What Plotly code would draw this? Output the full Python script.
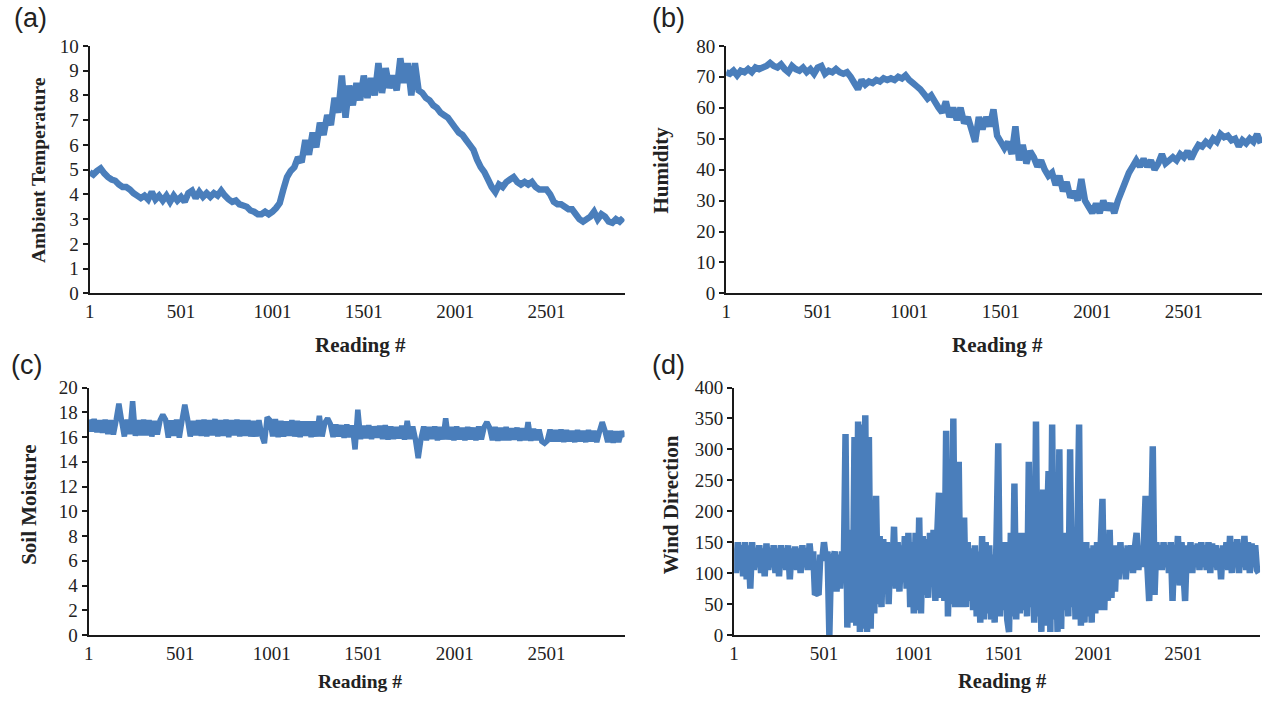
import plotly.graph_objects as go

W, H = 1270, 712
LINE = "#4A7EBB"

# ---------------- data ----------------
# Reading index sampled every 20 readings for (a) and (b)
reading_ab = list(range(1, 2922, 20))

ambient_temperature = [
    4.9, 4.8, 4.95, 5.05, 4.85, 4.7, 4.6, 4.55, 4.4, 4.3,
    4.3, 4.2, 4.05, 3.95, 3.85, 3.95, 3.8, 4.1, 3.8, 3.95,
    3.75, 3.95, 3.7, 3.95, 3.75, 3.9, 3.7, 4.05, 4.15, 3.85,
    4.1, 3.9, 4.05, 3.9, 4.05, 3.95, 4.15, 3.95, 3.8, 3.7,
    3.75, 3.6, 3.55, 3.5, 3.35, 3.3, 3.2, 3.2, 3.3, 3.2,
    3.3, 3.45, 3.65, 4.2, 4.7, 4.95, 5.1, 5.5, 5.3, 6.2,
    5.6, 6.5, 5.9, 6.9, 6.4, 7.2, 6.8, 7.9, 7.3, 8.8,
    7.1, 8.4, 7.6, 8.5, 7.8, 8.8, 7.9, 8.7, 8.0, 9.3,
    8.1, 9.1, 8.3, 8.8, 8.2, 9.5, 8.5, 9.3, 8.0, 9.3,
    8.2, 8.1, 7.9, 7.8, 7.6, 7.5, 7.3, 7.2, 7.1, 6.9,
    6.7, 6.5, 6.4, 6.2, 6.0, 5.8, 5.4, 5.1, 4.9, 4.6,
    4.3, 4.1, 4.4, 4.3, 4.5, 4.6, 4.7, 4.5, 4.4, 4.5,
    4.4, 4.5, 4.3, 4.2, 4.2, 4.2, 4.0, 3.7, 3.6, 3.6,
    3.5, 3.4, 3.4, 3.2, 3.0, 2.9, 3.0, 3.1, 3.3, 3.0,
    3.2, 3.1, 2.9, 2.85, 3.0, 2.9, 3.05,
]

humidity = [
    71.5, 71, 72, 70.5, 72, 71.5, 72.5, 71.5, 73, 72.5,
    73, 73.5, 74.5, 73.5, 73, 74, 72.5, 71.5, 73.5, 72.5,
    72, 73, 71.5, 72.5, 71, 73, 73.5, 71, 72, 71.5,
    72.5, 71.5, 71, 71.5, 70, 68, 66, 69, 67.5, 68.5,
    68, 69, 68.5, 69.5, 69, 69.5, 69, 70, 69.5, 70.5,
    69, 68, 67, 66, 64.5, 63, 64, 62, 60, 58.5,
    62, 57, 60, 56, 60, 55, 57, 53, 49, 57,
    53, 57, 54, 59.5, 51, 49, 47, 49, 45, 54,
    43, 48, 42, 46, 44, 41, 43, 40, 38, 39,
    35, 38, 33, 36, 31, 33, 30, 37, 30, 28,
    26, 29, 26, 30, 27, 29, 26, 30, 33, 36,
    39, 41, 43, 41, 43.5, 41, 43, 40, 42, 45,
    42, 43, 44, 43, 45, 44, 46, 43.5, 46, 48,
    47.5, 49, 48, 50, 49, 51.5, 50.5, 51, 49.5, 50,
    47.5, 49.5, 48.5, 50, 49, 51.5, 48.5,
]

# Reading index sampled every 15 readings for (c)
reading_c = list(range(1, 2927, 15))

soil_moisture = [
    17.4, 16.45, 17.45, 16.4, 17.35, 16.35, 17.4, 16.25, 17.35, 16.2,
    17.35, 18.7, 17.3, 16.05, 17.4, 16.25, 18.9, 16.1, 17.35, 16.15,
    17.4, 16.15, 17.35, 16.05, 17.3, 16.2, 17.35, 17.8, 17.4, 15.95,
    17.35, 16.1, 17.4, 15.95, 17.35, 18.6, 17.45, 16.05, 17.3, 16.15,
    17.35, 16.1, 17.4, 16.05, 17.35, 16.15, 17.45, 16.05, 17.35, 16.1,
    17.4, 16.0, 17.35, 16.15, 17.4, 16.05, 17.35, 16.1, 17.35, 16.05,
    17.3, 16.05, 17.35, 16.15, 15.5, 17.6, 17.35, 16.05, 17.45, 16.0,
    17.3, 16.05, 17.25, 16.1, 17.35, 16.05, 17.3, 16.0, 17.25, 16.1,
    17.25, 16.0, 17.25, 16.05, 17.7, 16.05, 17.15, 17.5, 17.05, 16.0,
    17.0, 16.05, 16.95, 15.95, 17.0, 16.0, 16.95, 15.0, 18.2, 15.85,
    16.9, 15.9, 16.95, 15.85, 16.85, 15.95, 16.9, 15.85, 16.95, 15.8,
    16.85, 15.85, 16.8, 15.9, 16.9, 15.8, 17.3, 15.85, 16.85, 15.8,
    14.3, 15.85, 16.85, 15.75, 16.8, 15.85, 16.85, 15.75, 16.8, 15.8,
    17.5, 15.8, 16.8, 15.75, 16.85, 15.8, 16.75, 15.75, 16.8, 15.8,
    16.75, 15.75, 16.85, 15.8, 16.8, 17.2, 16.75, 15.75, 16.8, 15.7,
    16.75, 15.75, 16.8, 15.75, 16.7, 15.8, 16.75, 15.7, 16.7, 15.75,
    17.2, 15.7, 16.65, 15.75, 16.6, 15.65, 15.5, 15.7, 16.6, 15.65,
    16.55, 15.65, 16.6, 15.6, 16.55, 15.65, 16.5, 15.6, 16.55, 15.65,
    16.5, 15.6, 16.55, 15.65, 16.5, 15.6, 16.45, 17.2, 16.5, 15.6,
    16.5, 15.55, 16.45, 15.6, 16.45, 16.0,
]

# Reading index sampled every 10 readings for (d)
reading_d = list(range(1, 2922, 10))

wind_direction = [
    140, 100, 150, 105, 145, 95, 150, 90, 145, 75,
    150, 105, 140, 110, 145, 100, 140, 95, 148, 105,
    140, 110, 145, 100, 140, 95, 145, 110, 140, 105,
    145, 90, 140, 110, 143, 105, 140, 100, 145, 110,
    140, 105, 148, 115, 135, 65, 68, 65, 130, 120,
    150, 125, 135, 0, 130, 120, 135, 70, 130, 75,
    135, 100, 325, 12, 170, 60, 20, 320, 15, 345,
    5, 340, 10, 355, 5, 320, 10, 180, 35, 225,
    50, 160, 45, 155, 75, 150, 50, 140, 95, 175,
    75, 150, 70, 145, 85, 160, 75, 165, 45, 150,
    35, 165, 40, 190, 35, 160, 65, 155, 60, 165,
    85, 170, 55, 160, 230, 60, 210, 55, 330, 30,
    150, 50, 350, 45, 160, 280, 45, 155, 190, 45,
    150, 55, 140, 40, 145, 30, 135, 20, 160, 25,
    150, 35, 145, 25, 130, 20, 150, 310, 30, 140,
    40, 150, 25, 5, 165, 30, 245, 25, 150, 35,
    165, 40, 155, 30, 280, 45, 155, 20, 345, 30,
    150, 5, 235, 15, 160, 265, 5, 340, 25, 150,
    5, 300, 10, 165, 40, 155, 30, 300, 45, 150,
    25, 150, 340, 15, 145, 20, 150, 30, 140, 20,
    145, 35, 150, 40, 145, 220, 40, 145, 55, 170,
    60, 145, 70, 145, 90, 150, 100, 140, 90, 145,
    110, 145, 100, 140, 165, 105, 140, 110, 145, 225,
    110, 55, 145, 305, 65, 150, 110, 145, 105, 150,
    110, 145, 100, 150, 55, 145, 110, 160, 80, 150,
    105, 55, 145, 110, 150, 100, 145, 110, 148, 105,
    150, 110, 145, 105, 150, 100, 148, 110, 145, 105,
    140, 90, 145, 110, 150, 105, 160, 100, 150, 110,
    155, 100, 145, 110, 160, 105, 150, 100, 148, 110,
    145, 105, 100,
]

x_tick_vals = [1, 501, 1001, 1501, 2001, 2501]
x_tick_text = ["1", "501", "1001", "1501", "2001", "2501"]

# ---------------- layout helpers ----------------
def fx(px):
    return px / W


def fy(py):
    return 1 - py / H


panels = [
    dict(key="", xd=(85, 622), yd=(37, 292), yr=[0, 10], dt=1, lw=6.5,
         x=reading_ab, y=ambient_temperature),
    dict(key="2", xd=(724, 1262), yd=(37, 292), yr=[0, 80], dt=10, lw=6.5,
         x=reading_ab, y=humidity),
    dict(key="3", xd=(84, 622), yd=(389, 644), yr=[0, 20], dt=2, lw=5.5,
         x=reading_c, y=soil_moisture),
    dict(key="4", xd=(732, 1260), yd=(389, 644), yr=[0, 400], dt=50, lw=6.5,
         x=reading_d, y=wind_direction),
]

tick_font = dict(family="Liberation Serif", size=19, color="#222222")

fig = go.Figure()
layout = dict(
    width=W, height=H,
    margin=dict(l=0, r=0, t=0, b=0),
    paper_bgcolor="white", plot_bgcolor="white",
    showlegend=False,
)

for p in panels:
    k = p["key"]
    fig.add_trace(go.Scatter(
        x=p["x"], y=p["y"], mode="lines",
        line=dict(color=LINE, width=p["lw"], simplify=False),
        xaxis="x" + k, yaxis="y" + k,
        hoverinfo="skip",
    ))
    layout["xaxis" + k] = dict(
        domain=[fx(p["xd"][0]), fx(p["xd"][1])],
        anchor="y" + k,
        range=[1, 2928],
        tickmode="array", tickvals=x_tick_vals, ticktext=x_tick_text,
        ticks="", showline=True, linecolor="#1a1a1a", linewidth=2,
        showgrid=False, zeroline=False,
        tickfont=tick_font, ticklabelstandoff=0,
    )
    layout["yaxis" + k] = dict(
        domain=[fy(p["yd"][1]), fy(p["yd"][0])],
        anchor="x" + k,
        range=p["yr"], dtick=p["dt"], tick0=0,
        ticks="outside", ticklen=5, tickwidth=1.5, tickcolor="#1a1a1a",
        showline=True, linecolor="#1a1a1a", linewidth=2,
        showgrid=False, zeroline=False,
        tickfont=tick_font,
    )


def serif_bold(size):
    return dict(family="Liberation Serif", size=size, color="#222222")


panel_font = dict(family="Liberation Sans", size=27, color="#222222")

annotations = []


def note(text, px, py, font, angle=0):
    annotations.append(dict(
        text=text, x=fx(px), y=fy(py), xref="paper", yref="paper",
        showarrow=False, xanchor="center", yanchor="middle",
        font=font, textangle=angle,
    ))


# panel tags
note("(a)", 26, 8, panel_font)
note("(b)", 666, 8, panel_font)
note("(c)", 22, 366, panel_font)
note("(d)", 666, 366, panel_font)

# axis titles
note("<b>Reading #</b>", 357, 345, serif_bold(21))
note("<b>Reading #</b>", 996, 345, serif_bold(21))
note("<b>Reading #</b>", 356, 692, serif_bold(19.5))
note("<b>Reading #</b>", 1001, 692, serif_bold(20.5))
note("<b>Ambient Temperature</b>", 33, 165, serif_bold(19.5), -90)
note("<b>Humidity</b>", 659, 165, serif_bold(21), -90)
note("<b>Soil Moisture</b>", 24, 510, serif_bold(21), -90)
note("<b>Wind Direction</b>", 669, 510, serif_bold(21), -90)

layout["annotations"] = annotations
fig.update_layout(**layout)

fig.write_html("out.html")
